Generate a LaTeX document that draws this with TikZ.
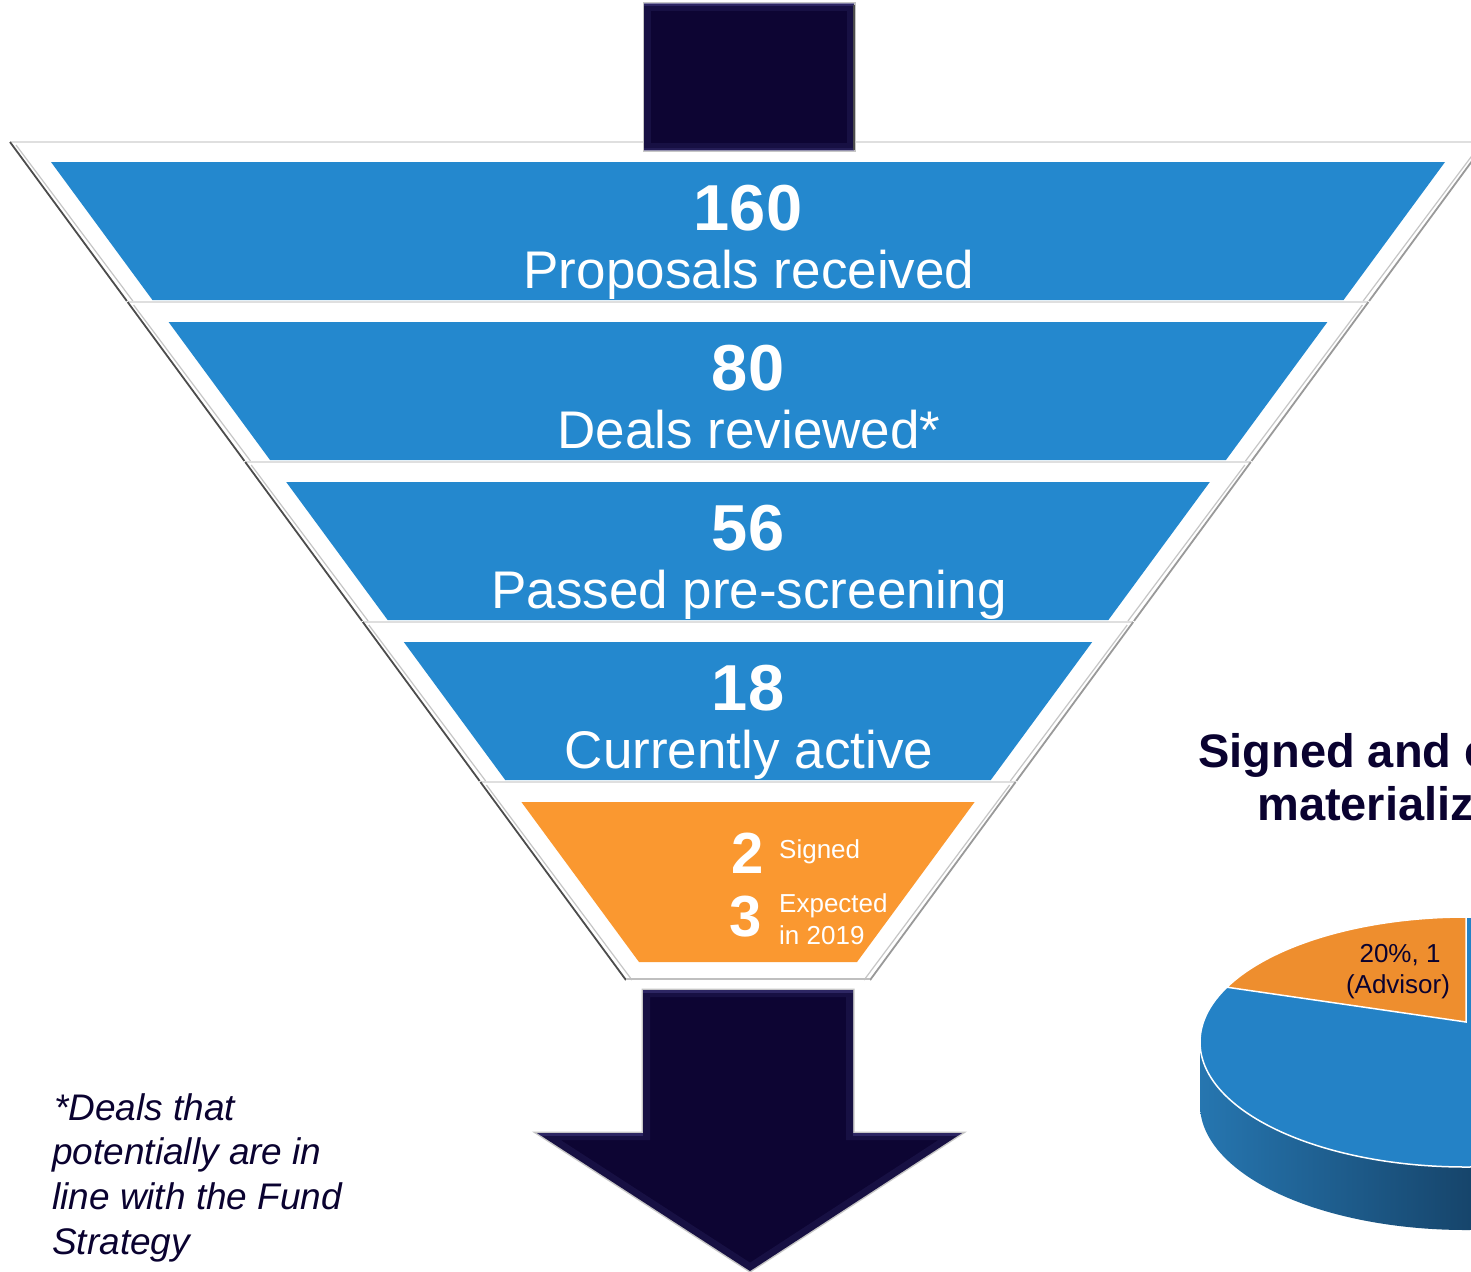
\documentclass[tikz,border=0pt]{standalone}
\usepackage{fontspec}
\setmainfont{Liberation Sans}
\usetikzlibrary{calc}

\definecolor{funnelblue}{RGB}{36,136,206}
\definecolor{funnelorange}{RGB}{250,152,48}
\definecolor{navy}{RGB}{13,5,51}
\definecolor{navybevel}{RGB}{72,66,140}
\definecolor{pieblue}{RGB}{36,130,198}
\definecolor{pieorange}{RGB}{238,142,46}
\definecolor{sideleft}{RGB}{38,118,176}
\definecolor{sideright}{RGB}{22,68,106}
\definecolor{titlenavy}{RGB}{10,2,48}

% one band of the funnel: white bevelled frame with a coloured trapezoid inside
% #1,#2 frame top/bottom, #3,#4 inner top/bottom, #5 inner colour
\newcommand\funnelband[5]{%
  \pgfmathsetmacro\oTop{738-0.735*(#1-142)}%
  \pgfmathsetmacro\oBot{738-0.735*(#2-142)}%
  \pgfmathsetmacro\iTop{697-0.735*(#3-162)}%
  \pgfmathsetmacro\iBot{697-0.735*(#4-162)}%
  \fill[white] (748-\oTop,#1) -- (748+\oTop,#1) -- (748+\oBot,#2) -- (748-\oBot,#2) -- cycle;
  \draw[rimtop] (748-\oTop,#1) -- (748+\oTop,#1);
  \draw[rimdark] (748-\oTop,#1) -- (748-\oBot,#2);
  \draw[rimmid] (748+\oTop,#1) -- (748+\oBot,#2);
  \draw[rimlight] (748-\oTop+6,#1+3) -- (748-\oBot+6,#2);
  \draw[rimlight] (748+\oTop-6,#1+3) -- (748+\oBot-6,#2);
  \fill[#5] (748-\iTop,#3) -- (748+\iTop,#3) -- (748+\iBot,#4) -- (748-\iBot,#4) -- cycle;
}

\tikzset{
  rimtop/.style={draw=gray!25, line width=2},
  rimdark/.style={draw=black!70, line width=1.8},
  rimmid/.style={draw=gray!80, line width=1.8},
  rimlight/.style={draw=gray!45, line width=1.2},
  lvltext/.style={text=white, inner sep=0, anchor=base},
  bignum/.style={lvltext, font=\fontsize{65}{65}\selectfont\bfseries},
  lvllabel/.style={lvltext, font=\fontsize{53}{53}\selectfont},
  orgnum/.style={text=white, inner sep=0, anchor=base west, font=\fontsize{58}{58}\selectfont\bfseries},
  orglabel/.style={text=white, inner sep=0, anchor=base west, font=\fontsize{26}{26}\selectfont},
  foot/.style={text=titlenavy, inner sep=0, anchor=base west, font=\fontsize{37}{37}\selectfont\itshape},
  title/.style={text=titlenavy, inner sep=0, anchor=base west, font=\fontsize{47}{47}\selectfont\bfseries},
  pielabel/.style={text=titlenavy, inner sep=0, anchor=base, font=\fontsize{26}{26}\selectfont},
  arrowedge/.style={draw=gray!45, line width=3},
  bevelwide/.style={draw=navybevel, line width=14, draw opacity=0.18},
  bevelnarrow/.style={draw=navybevel, line width=5, draw opacity=0.45},
}

\begin{document}
\begin{tikzpicture}[x=1pt,y=-1pt]
\useasboundingbox (0,0) rectangle (1471,1271);
\clip (0,0) rectangle (1471,1271);
\fill[white] (0,0) rectangle (1471,1271);

% ---------- funnel ----------
\funnelband{142}{301}{162}{300}{funnelblue}
\funnelband{302}{461}{322}{460}{funnelblue}
\funnelband{462}{621}{482}{620}{funnelblue}
\funnelband{622}{781}{642}{780}{funnelblue}
\funnelband{782}{980}{802}{962}{funnelorange}
\draw[gray!50, line width=1.5] (626,979) -- (870,979);

\node[bignum]   (num0) at (748,230) {160};
\node[lvllabel] (lab0) at (749,288) {Proposals received};
\node[bignum]   (num1) at (748,390) {80};
\node[lvllabel] (lab1) at (749,448) {Deals reviewed*};
\node[bignum]   (num2) at (748,550) {56};
\node[lvllabel] (lab2) at (749,608) {Passed pre-screening};
\node[bignum]   (num3) at (748,710) {18};
\node[lvllabel] (lab3) at (749,768) {Currently active};

\node[orgnum]   (signednum) at (731,873) {2};
\node[orglabel] (signedlab) at (779,858) {Signed};
\node[orgnum]   (expnum)    at (729,936) {3};
\node[orglabel] (explab1)   at (779,912) {Expected};
\node[orglabel] (explab2)   at (779,944) {in 2019};

% ---------- inflow arrow ----------
\draw[arrowedge] (644,4) rectangle (854,150);
\fill[navy] (644,4) rectangle (854,150);
\begin{scope}
  \clip (644,4) rectangle (854,150);
  \draw[bevelwide] (644,4) rectangle (854,150);
  \draw[bevelnarrow] (644,4) -- (854,4);
  \draw[bevelnarrow, draw opacity=0.25] (644,150) -- (854,150);
\end{scope}
\draw[black!70, line width=1.8] (854,5) -- (854,150);

% ---------- outflow arrow ----------
\draw[arrowedge] (643,990) -- (853,990) -- (853,1133) -- (962,1133) -- (750,1271)
  -- (537,1133) -- (643,1133) -- cycle;
\fill[navy] (643,990) -- (853,990) -- (853,1133) -- (962,1133) -- (750,1271)
  -- (537,1133) -- (643,1133) -- cycle;
\begin{scope}
  \clip (643,990) -- (853,990) -- (853,1133) -- (962,1133) -- (750,1271)
    -- (537,1133) -- (643,1133) -- cycle;
  \draw[bevelwide] (643,990) -- (853,990) -- (853,1133) -- (962,1133) -- (750,1271)
    -- (537,1133) -- (643,1133) -- cycle;
  \draw[bevelnarrow] (537,1133) -- (643,1133);
  \draw[bevelnarrow] (643,990) -- (853,990);
  \draw[bevelnarrow] (853,1133) -- (962,1133);
\end{scope}

% ---------- footnote ----------
\node[foot] (fn1) at (54,1120) {*Deals that};
\node[foot] (fn2) at (52,1164) {potentially are in};
\node[foot] (fn3) at (52,1209) {line with the Fund};
\node[foot] (fn4) at (52,1254) {Strategy};

% ---------- pie chart ----------
\node[title] (title1) at (1198,767) {Signed and expected};
\node[title] (title2) at (1257,820) {materialization};

\shade[left color=sideleft, right color=sideright]
  (1200,1042) -- (1200,1105) arc[start angle=180, end angle=88, x radius=266, y radius=125]
  -- ++(0,-63) arc[start angle=88, end angle=180, x radius=266, y radius=125] -- cycle;
\filldraw[fill=pieblue, draw=white, line width=1.5] (1466,1042) ellipse[x radius=266, y radius=125];
\coordinate (apex) at (1466,1022);
\filldraw[fill=pieorange, draw=white, line width=1.5]
  (apex) -- (1466,917) arc[start angle=270, end angle=206, x radius=266, y radius=125] -- cycle;
\node[pielabel] (pie1) at (1400,962) {20\%, 1};
\node[pielabel] (pie2) at (1398,993) {(Advisor)};
\end{tikzpicture}
\end{document}
